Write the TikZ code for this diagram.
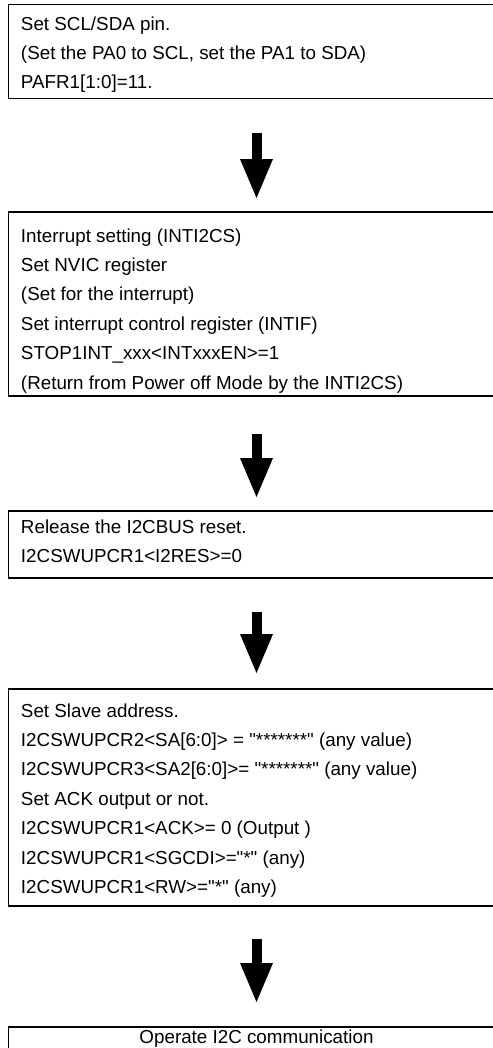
\documentclass[tikz,border=0pt]{standalone}
\usepackage{fontspec}
\setmainfont{Liberation Sans}
\usetikzlibrary{arrows.meta}
\newcommand{\qq}{\textquotedbl}
\tikzset{
  box/.style={draw=black, line width=1.6bp, fill=none, inner sep=0pt, minimum width=496bp, anchor=north},
  txt/.style={inner sep=0pt, anchor=base west, align=left, font=\fontsize{18.8bp}{29.4bp}\selectfont},
  ctxt/.style={inner sep=0pt, anchor=base, font=\fontsize{18.8bp}{29.4bp}\selectfont},
  fat/.style={line width=10bp, -{Triangle[width=33bp,length=39bp,line width=0pt]}}
}
\begin{document}
\begin{tikzpicture}[x=1bp,y=-1bp]
\useasboundingbox (0,0) rectangle (493,1048);
\clip (0,0) rectangle (493,1048);
% boxes
\node[box, minimum height=94bp]  (b1) at (256.5,3.5) {};
\node[box, minimum height=184bp] (b2) at (256.5,211) {};
\node[box, minimum height=67bp]  (b3) at (256.5,510) {};
\node[box, minimum height=217bp] (b4) at (256.5,688) {};
\node[box, minimum height=80bp]  (b5) at (256.5,1026) {};
% texts (base anchor = baseline of the last line)
\node[txt] (t1) at (20.8,88.8) {Set SCL/SDA pin.\\(Set the PA0 to SCL, set the PA1 to SDA)\\PAFR1[1:0]=11.};
\node[txt] (t2) at (20.8,389) {Interrupt setting (INTI2CS)\\Set NVIC register\\(Set for the interrupt)\\Set interrupt control register (INTIF)\\STOP1INT\_xxx<INTxxxEN>=1\\(Return from Power off Mode by the INTI2CS)};
\node[txt] (t3) at (20.8,562.4) {Release the I2CBUS reset.\\I2CSWUPCR1<I2RES>=0};
\node[txt] (t4) at (20.8,893.4) {Set Slave address.\\I2CSWUPCR2<SA[6:0]> = \qq*******\qq{} (any value)\\I2CSWUPCR3<SA2[6:0]>= \qq*******\qq{} (any value)\\Set ACK output or not.\\I2CSWUPCR1<ACK>= 0 (Output )\\I2CSWUPCR1<SGCDI>=\qq*\qq{} (any)\\I2CSWUPCR1<RW>=\qq*\qq{} (any)};
\node[ctxt] (t5) at (256.5,1043.5) {Operate I2C communication};
% arrows
\draw[fat, shorten <=34bp, shorten >=13bp] (b1.south) -- (b2.north);
\draw[fat, shorten <=37bp, shorten >=13bp] (b2.south) -- (b3.north);
\draw[fat, shorten <=33bp, shorten >=15bp] (b3.south) -- (b4.north);
\draw[fat, shorten <=32bp, shorten >=24bp] (b4.south) -- (b5.north);
\end{tikzpicture}
\end{document}
